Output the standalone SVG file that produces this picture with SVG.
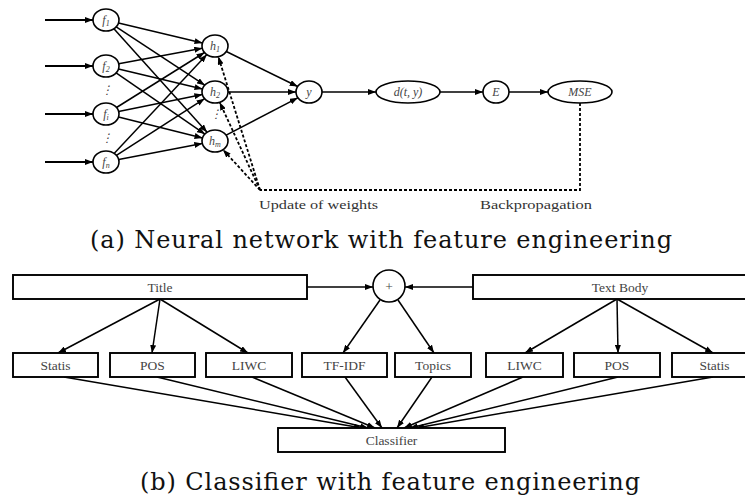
<svg xmlns="http://www.w3.org/2000/svg" width="745" height="500" viewBox="0 0 745 500">
<defs>
<marker id="ah" markerUnits="userSpaceOnUse" markerWidth="8" markerHeight="6" refX="8" refY="3" orient="auto"><path d="M0,0 L8,3 L0,6 z" fill="#000"/></marker>
<style>
.n{fill:#fff;stroke:#000;stroke-width:1.6}
.b{fill:#fff;stroke:#000;stroke-width:1.9}
.e{fill:none;stroke:#000;stroke-width:1.5;marker-end:url(#ah)}
.in{fill:none;stroke:#000;stroke-width:2.2;marker-end:url(#ah)}
.d{fill:none;stroke:#000;stroke-width:1.8;stroke-dasharray:3 2}
.da{fill:none;stroke:#000;stroke-width:1.8;stroke-dasharray:3 2;marker-end:url(#ah)}
.ml{font-family:"Liberation Serif",serif;font-style:italic;font-size:12px;fill:#444;text-anchor:middle}
.bl{font-family:"Liberation Serif",serif;font-size:13.5px;fill:#444;text-anchor:middle}
.sl{font-family:"Liberation Serif",serif;font-size:12px;fill:#333}
.cap{font-family:"DejaVu Serif",serif;font-size:24px;fill:#111}
</style>
</defs>
<rect width="745" height="500" fill="#fff"/>

<g id="connectors">
<line class="in" x1="45" y1="20" x2="93" y2="20"/>
<line class="in" x1="45" y1="66" x2="93" y2="66"/>
<line class="in" x1="45" y1="114" x2="93" y2="114"/>
<line class="in" x1="45" y1="162" x2="93" y2="162"/>
<line class="e" x1="118.5" y1="23" x2="202.5" y2="43"/>
<line class="e" x1="116.2" y1="26.8" x2="204.8" y2="85.2"/>
<line class="e" x1="113.9" y1="28.8" x2="207.1" y2="132.3"/>
<line class="e" x1="118.7" y1="63.7" x2="202.3" y2="48.3"/>
<line class="e" x1="118.5" y1="69" x2="202.5" y2="89"/>
<line class="e" x1="116.1" y1="72.9" x2="204.9" y2="134.1"/>
<line class="e" x1="116.5" y1="107.5" x2="204.5" y2="52.5"/>
<line class="e" x1="118.6" y1="111.4" x2="202.4" y2="94.6"/>
<line class="e" x1="118.5" y1="117.1" x2="202.5" y2="137.9"/>
<line class="e" x1="114.1" y1="153.4" x2="206.9" y2="54.6"/>
<line class="e" x1="116.4" y1="155.4" x2="204.6" y2="98.7"/>
<line class="e" x1="118.7" y1="159.6" x2="202.3" y2="143.5"/>
<line class="e" x1="226.3" y1="51.5" x2="297.7" y2="86.5"/>
<line class="e" x1="228" y1="92" x2="296" y2="92"/>
<line class="e" x1="226.2" y1="135.2" x2="297.8" y2="97.8"/>
<line class="e" x1="322" y1="92" x2="376" y2="92"/>
<line class="e" x1="440" y1="92" x2="483" y2="92"/>
<line class="e" x1="509" y1="92" x2="548" y2="92"/>
<polyline class="d" points="580,103 580,190 260,190"/>
<line class="da" x1="260" y1="190" x2="218.3" y2="56.6"/>
<line class="da" x1="260" y1="190" x2="219.7" y2="102.3"/>
<line class="da" x1="260" y1="190" x2="223" y2="149.7"/>

<line class="e" x1="307" y1="287" x2="373" y2="287"/>
<line class="e" x1="473" y1="287" x2="405" y2="287"/>
<line class="e" x1="160" y1="299" x2="58" y2="353"/>
<line class="e" x1="160" y1="299" x2="152" y2="353"/>
<line class="e" x1="160" y1="299" x2="248" y2="353"/>
<line class="e" x1="380" y1="300" x2="343" y2="353"/>
<line class="e" x1="398" y1="300" x2="434" y2="353"/>
<line class="e" x1="617" y1="299" x2="525" y2="353"/>
<line class="e" x1="617" y1="299" x2="618" y2="353"/>
<line class="e" x1="617" y1="299" x2="713" y2="353"/>
<line class="e" x1="64" y1="377" x2="362" y2="428"/>
<line class="e" x1="157" y1="377" x2="368" y2="428"/>
<line class="e" x1="252" y1="377" x2="375" y2="428"/>
<line class="e" x1="345" y1="377" x2="382" y2="428"/>
<line class="e" x1="432" y1="377" x2="397" y2="428"/>
<line class="e" x1="523" y1="377" x2="404" y2="428"/>
<line class="e" x1="618" y1="377" x2="410" y2="428"/>
<line class="e" x1="713" y1="377" x2="416" y2="428"/>
</g>

<g id="f1"><ellipse class="n" cx="106" cy="20" rx="13" ry="11"/><text class="ml" x="106" y="24">f<tspan font-size="8" dy="2">1</tspan></text></g>
<g id="f2"><ellipse class="n" cx="106" cy="66" rx="13" ry="11"/><text class="ml" x="106" y="70">f<tspan font-size="8" dy="2">2</tspan></text></g>
<g id="fi"><ellipse class="n" cx="106" cy="114" rx="13" ry="11"/><text class="ml" x="106" y="118">f<tspan font-size="8" dy="2">i</tspan></text></g>
<g id="fn"><ellipse class="n" cx="106" cy="162" rx="13" ry="11"/><text class="ml" x="106" y="166">f<tspan font-size="8" dy="2">n</tspan></text></g>
<g id="dots"><text class="ml" x="107" y="94" font-style="normal">⋮</text><text class="ml" x="107" y="142" font-style="normal">⋮</text><text class="ml" x="216" y="118" font-style="normal">⋮</text></g>
<g id="h1"><ellipse class="n" cx="215" cy="46" rx="13" ry="11"/><text class="ml" x="215" y="50">h<tspan font-size="8" dy="2">1</tspan></text></g>
<g id="h2"><ellipse class="n" cx="215" cy="92" rx="13" ry="11"/><text class="ml" x="215" y="96">h<tspan font-size="8" dy="2">2</tspan></text></g>
<g id="hm"><ellipse class="n" cx="215" cy="141" rx="13" ry="11"/><text class="ml" x="215" y="145">h<tspan font-size="8" dy="2">m</tspan></text></g>
<g id="y"><ellipse class="n" cx="309" cy="92" rx="13" ry="11"/><text class="ml" x="309" y="96">y</text></g>
<g id="d"><ellipse class="n" cx="408" cy="92" rx="32" ry="11"/><text class="ml" x="408" y="96">d(t, y)</text></g>
<g id="E"><ellipse class="n" cx="496" cy="92" rx="13" ry="11"/><text class="ml" x="496" y="96">E</text></g>
<g id="MSE"><ellipse class="n" cx="580" cy="92" rx="32" ry="11"/><text class="ml" x="580" y="96">MSE</text></g>
<g id="labels">
<text class="sl" x="259" y="209" textLength="119" lengthAdjust="spacingAndGlyphs">Update of weights</text>
<text class="sl" x="480" y="209" textLength="112" lengthAdjust="spacingAndGlyphs">Backpropagation</text>
<text class="cap" x="90" y="248" textLength="582">(a) Neural network with feature engineering</text>
<text class="cap" x="140" y="490" textLength="500">(b) Classifier with feature engineering</text>
</g>

<g id="title"><rect class="b" x="13" y="275" width="294" height="24"/><text class="bl" x="160" y="291.5">Title</text></g>
<g id="plus"><circle class="n" cx="389" cy="286" r="16"/><text class="bl" x="389" y="291">+</text></g>
<g id="textbody"><rect class="b" x="473" y="275" width="294" height="24"/><text class="bl" x="620" y="291.5">Text Body</text></g>
<g id="statis1"><rect class="b" x="13" y="353" width="85" height="24"/><text class="bl" x="55.5" y="369.5">Statis</text></g>
<g id="pos1"><rect class="b" x="110" y="353" width="85" height="24"/><text class="bl" x="152.5" y="369.5">POS</text></g>
<g id="liwc1"><rect class="b" x="206" y="353" width="86" height="24"/><text class="bl" x="249" y="369.5">LIWC</text></g>
<g id="tfidf"><rect class="b" x="302" y="353" width="85" height="24"/><text class="bl" x="344.5" y="369.5">TF-IDF</text></g>
<g id="topics"><rect class="b" x="395" y="353" width="76" height="24"/><text class="bl" x="433" y="369.5">Topics</text></g>
<g id="liwc2"><rect class="b" x="486" y="353" width="77" height="24"/><text class="bl" x="524.5" y="369.5">LIWC</text></g>
<g id="pos2"><rect class="b" x="574" y="353" width="86" height="24"/><text class="bl" x="617" y="369.5">POS</text></g>
<g id="statis2"><rect class="b" x="672" y="353" width="85" height="24"/><text class="bl" x="714.5" y="369.5">Statis</text></g>
<g id="classifier"><rect class="b" x="278" y="428" width="227" height="24"/><text class="bl" x="391.5" y="444.5">Classifier</text></g>
</svg>
